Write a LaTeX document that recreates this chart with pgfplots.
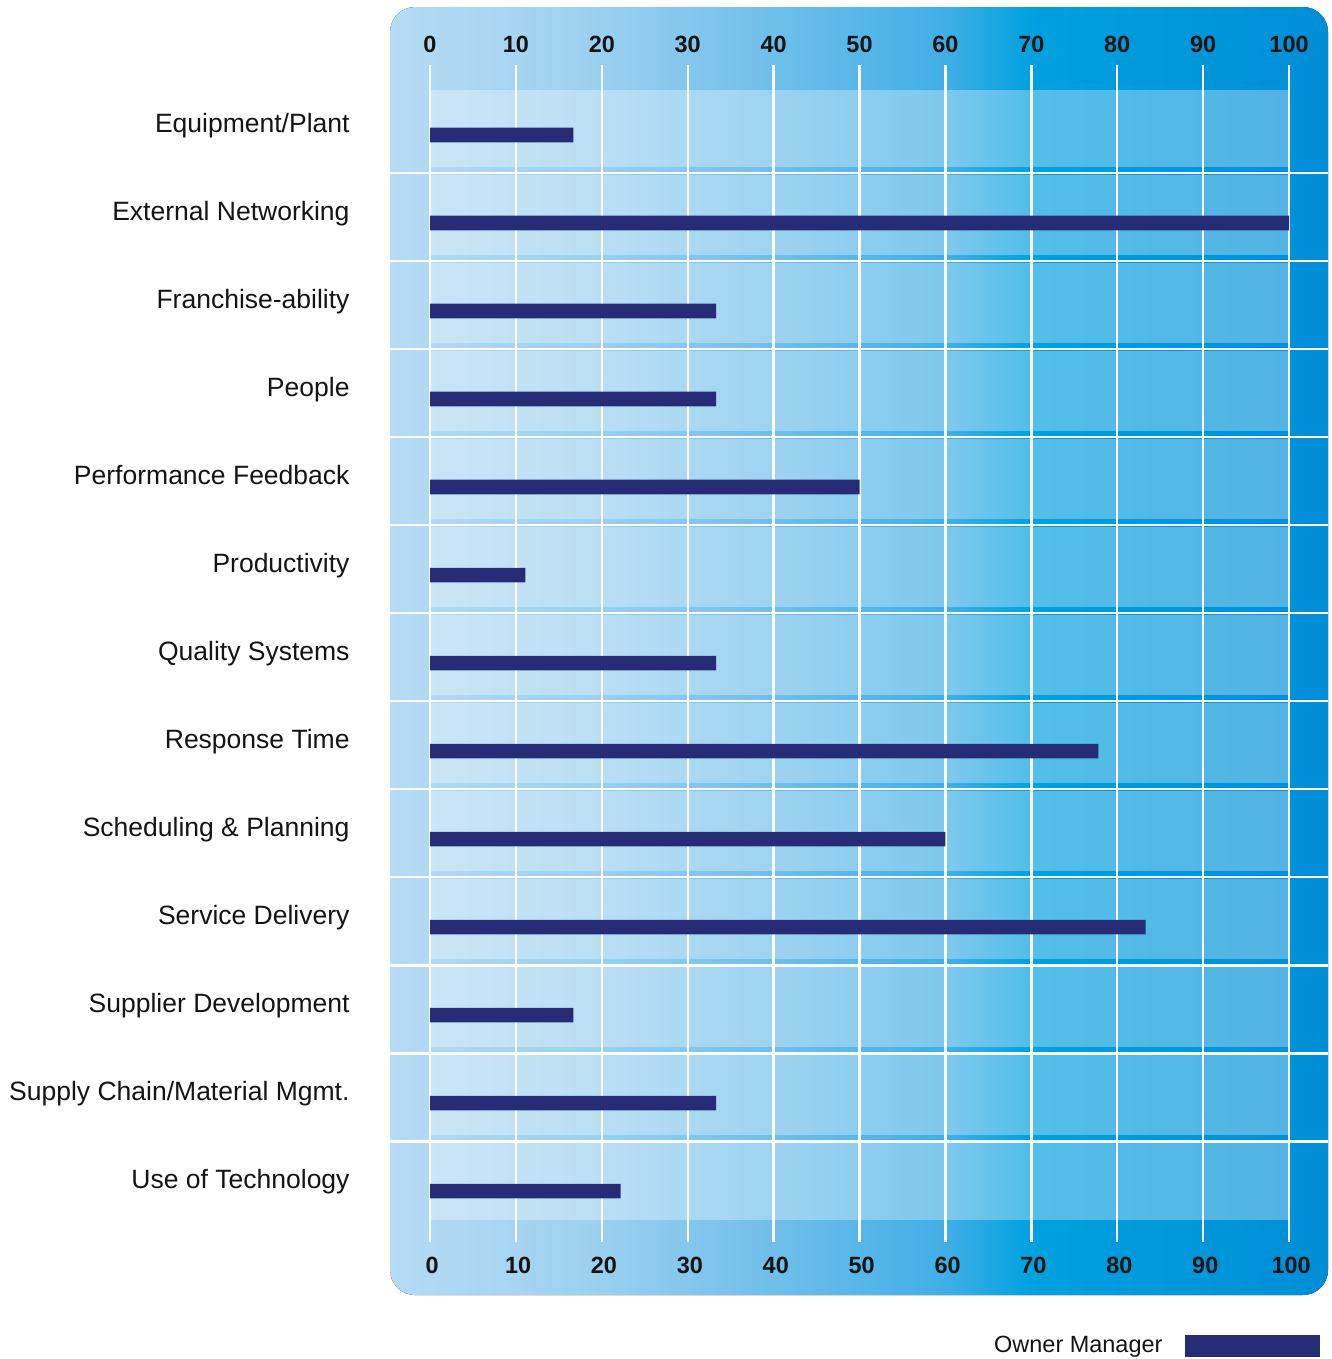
\documentclass[border=0pt]{standalone}
\usepackage{pgfplots}
\pgfplotsset{compat=1.18}
\usepackage{fontspec}
\setmainfont{Liberation Sans}
\definecolor{barc}{HTML}{252B74}
\definecolor{txt}{HTML}{141414}
\pgfdeclarehorizontalshading{panel}{100bp}{
  rgb(0bp)=(0.714,0.859,0.957);
  rgb(25bp)=(0.714,0.859,0.957);
  rgb(35.66bp)=(0.616,0.816,0.941);
  rgb(46.32bp)=(0.42,0.741,0.918);
  rgb(54.85bp)=(0.243,0.682,0.902);
  rgb(59.12bp)=(0,0.631,0.878);
  rgb(75bp)=(0,0.557,0.839);
  rgb(100bp)=(0,0.557,0.839)}
\begin{document}
\begin{tikzpicture}
\begin{axis}[
  scale only axis,
  width=351.75pt, height=483pt,
  xmin=-4.657, xmax=104.54,
  ymin=-1.4545, ymax=13.182,
  y dir=reverse,
  hide axis,
  clip=false,
]
% panel
\fill[shading=panel, rounded corners=9.4pt] (axis cs:-4.657,-1.4545) rectangle (axis cs:104.54,13.182);
% row overlays
\fill[white, opacity=0.32] (axis cs:0,-0.511) rectangle (axis cs:100,0.364);
\pgfplotsinvokeforeach{1,2,3,4,5,6,7,8,9,10,11}{
  \fill[white, opacity=0.32] (axis cs:0,#1-0.545) rectangle (axis cs:100,#1+0.364);
}
\fill[white, opacity=0.32] (axis cs:0,11.455) rectangle (axis cs:100,12.33);
% separators
\pgfplotsinvokeforeach{0,1,2,3,4,5,6,7,8,9,10,11}{
  \draw[white, line width=1.1pt] (axis cs:-4.657,#1+0.432) -- (axis cs:104.54,#1+0.432);
}
% vertical grid lines and tick labels
\pgfplotsinvokeforeach{0,10,20,30,40,50,60,70,80,90,100}{
  \draw[white, line width=0.9pt] (axis cs:#1,-0.795) -- (axis cs:#1,12.58);
  \node[anchor=base, inner sep=0pt, font=\fontsize{8.8}{10}\selectfont\bfseries, text=txt] at (axis cs:#1,-0.932) {#1};
  \node[anchor=base, inner sep=0pt, font=\fontsize{8.8}{10}\selectfont\bfseries, text=txt] at (axis cs:#1+0.25,12.932) {#1};
}
% bars
\addplot[xbar, fill=barc, draw=none, bar width=0.165, bar shift=0pt] coordinates {
  (16.7,0) (100,1) (33.3,2) (33.3,3) (50,4) (11.1,5) (33.3,6)
  (77.8,7) (60,8) (83.3,9) (16.7,10) (33.3,11) (22.2,12)
};
% category labels
\node[anchor=base east, inner sep=0pt, font=\fontsize{9.94}{12}\selectfont, text=txt] at (axis cs:-9.31,-0.034) {Equipment/Plant};
\node[anchor=base east, inner sep=0pt, font=\fontsize{9.94}{12}\selectfont, text=txt] at (axis cs:-9.31,0.966) {External Networking};
\node[anchor=base east, inner sep=0pt, font=\fontsize{9.94}{12}\selectfont, text=txt] at (axis cs:-9.31,1.966) {Franchise-ability};
\node[anchor=base east, inner sep=0pt, font=\fontsize{9.94}{12}\selectfont, text=txt] at (axis cs:-9.31,2.966) {People};
\node[anchor=base east, inner sep=0pt, font=\fontsize{9.94}{12}\selectfont, text=txt] at (axis cs:-9.31,3.966) {Performance Feedback};
\node[anchor=base east, inner sep=0pt, font=\fontsize{9.94}{12}\selectfont, text=txt] at (axis cs:-9.31,4.966) {Productivity};
\node[anchor=base east, inner sep=0pt, font=\fontsize{9.94}{12}\selectfont, text=txt] at (axis cs:-9.31,5.966) {Quality Systems};
\node[anchor=base east, inner sep=0pt, font=\fontsize{9.94}{12}\selectfont, text=txt] at (axis cs:-9.31,6.966) {Response Time};
\node[anchor=base east, inner sep=0pt, font=\fontsize{9.94}{12}\selectfont, text=txt] at (axis cs:-9.31,7.966) {Scheduling \& Planning};
\node[anchor=base east, inner sep=0pt, font=\fontsize{9.94}{12}\selectfont, text=txt] at (axis cs:-9.31,8.966) {Service Delivery};
\node[anchor=base east, inner sep=0pt, font=\fontsize{9.94}{12}\selectfont, text=txt] at (axis cs:-9.31,9.966) {Supplier Development};
\node[anchor=base east, inner sep=0pt, font=\fontsize{9.94}{12}\selectfont, text=txt] at (axis cs:-9.31,10.966) {Supply Chain/Material Mgmt.};
\node[anchor=base east, inner sep=0pt, font=\fontsize{9.94}{12}\selectfont, text=txt] at (axis cs:-9.31,11.966) {Use of Technology};
% legend
\node[anchor=base east, inner sep=0pt, font=\fontsize{8.8}{10}\selectfont, text=txt] at (axis cs:85.33,13.84) {Owner Manager};
\fill[barc] (axis cs:87.89,13.636) rectangle (axis cs:103.6,13.89);
% bounding box corners
\coordinate (bbA) at (axis cs:-50.06,-1.534);
\coordinate (bbB) at (axis cs:104.89,13.909);
\end{axis}
\pgfresetboundingbox
\path[use as bounding box] (bbA) rectangle (bbB);
\end{tikzpicture}
\end{document}
